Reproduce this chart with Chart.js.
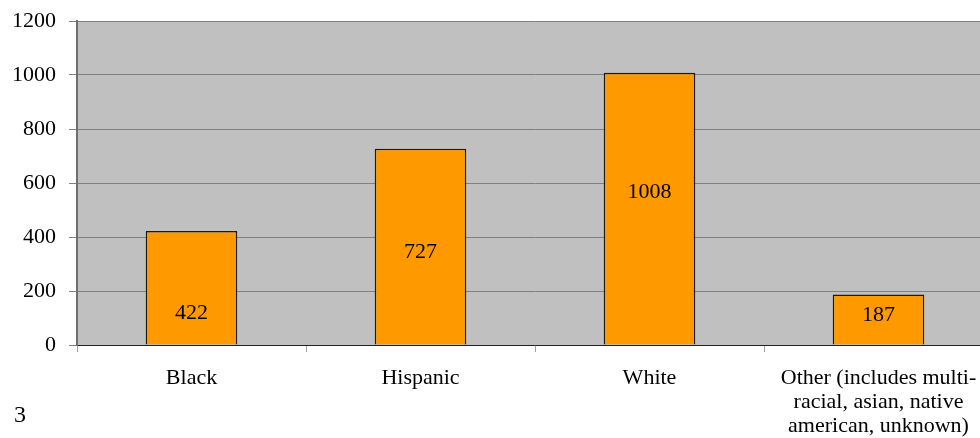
<!DOCTYPE html>
<html>
<head>
<meta charset="utf-8">
<script src="https://cdn.jsdelivr.net/npm/chart.js@4/dist/chart.umd.min.js"></script>
<style>
  html, body { margin: 0; padding: 0; background: #fff; overflow: hidden; }
  #wrap { position: relative; width: 980px; height: 438px; overflow: hidden; }
  #box { position: absolute; left: 0; top: 0; width: 1010px; height: 438px; }
  #pageNum { position: absolute; left: 14px; top: 401px; font: 24px "Liberation Serif", serif; color: #000; }
</style>
</head>
<body>
<div id="wrap">
  <div id="box"><canvas id="chart"></canvas></div>
  <div id="pageNum">3</div>
</div>
<script>
const categories = [
  'Black',
  'Hispanic',
  'White',
  ['Other (includes multi-', 'racial, asian, native', 'american, unknown)'],
];
const counts = [422, 727, 1008, 187];
const yTicks = [0, 200, 400, 600, 800, 1000, 1200];

const FONT = '"Liberation Serif", "Times New Roman", serif';

// value labels sit inside each bar, at a share of the bar's height from its top
const barLabels = {
  id: 'barLabels',
  afterDatasetsDraw(chart, args, opts) {
    const { ctx } = chart;
    const meta = chart.getDatasetMeta(0);
    ctx.save();
    ctx.font = `22px ${FONT}`;
    ctx.fillStyle = '#000';
    ctx.textAlign = 'center';
    ctx.textBaseline = 'middle';
    meta.data.forEach((bar, i) => {
      const y = bar.y + (bar.base - bar.y) * opts.frac[i];
      ctx.fillText(String(counts[i]), bar.x, y);
    });
    ctx.restore();
  },
};

const plotBg = {
  id: 'plotBg',
  beforeDraw(chart) {
    const { ctx, chartArea: a } = chart;
    ctx.save();
    ctx.fillStyle = '#c0c0c0';
    ctx.fillRect(a.left, a.top, a.right - a.left, a.bottom - a.top);
    ctx.restore();
  },
};

new Chart(document.getElementById('chart'), {
  type: 'bar',
  data: {
    labels: categories,
    datasets: [{
      data: counts,
      backgroundColor: '#ff9900',
      borderColor: '#1a1a1a',
      borderWidth: 1.5,
      barPercentage: 0.4,
      categoryPercentage: 1,
    }],
  },
  options: {
    responsive: true,
    maintainAspectRatio: false,
    animation: false,
    layout: { padding: { top: 21, right: 17, left: 0, bottom: 0 } },
    plugins: {
      legend: { display: false },
      tooltip: { enabled: false },
      barLabels: { frac: [0.72, 0.53, 0.44, 0.41] },
    },
    scales: {
      x: {
        afterFit: scale => { scale.height = 93; },
        grid: {
          offset: true,
          drawOnChartArea: false,
          drawTicks: true,
          tickLength: 7,
          color: '#a0a0a0',
        },
        border: { color: '#202020', width: 1 },
        ticks: {
          color: '#000',
          padding: 14,
          maxRotation: 0,
          autoSkip: false,
          font: { family: FONT, size: 22, lineHeight: 1.1 },
        },
      },
      y: {
        min: 0,
        max: 1200,
        afterFit: scale => { scale.width = 77; },
        afterBuildTicks: scale => { scale.ticks = yTicks.map(value => ({ value })); },
        grid: {
          color: '#808080',
          lineWidth: 1,
          tickLength: 8,
        },
        border: { color: '#6e6e6e', width: 2 },
        ticks: {
          color: '#000',
          padding: 13,
          callback: value => String(value),
          font: { family: FONT, size: 22, lineHeight: 0.6 },
        },
      },
    },
  },
  plugins: [plotBg, barLabels],
});
</script>
</body>
</html>
